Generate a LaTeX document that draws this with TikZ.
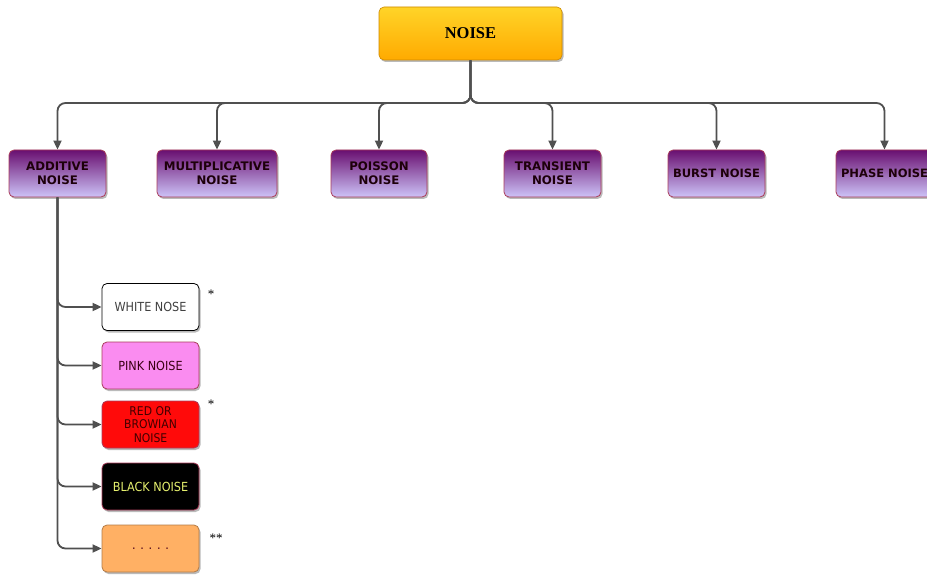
\documentclass[tikz,border=0pt]{standalone}
\usepackage{fontspec}
\setmainfont{Liberation Serif}
\newfontfamily\verd{DejaVu Sans}
\newfontfamily\tah{DejaVu Sans Condensed}
\usetikzlibrary{shadows,arrows.meta}
\definecolor{pTop}{RGB}{105,15,112}
\definecolor{pMid}{RGB}{150,80,175}
\definecolor{pBot}{RGB}{205,195,248}
\definecolor{pBorder}{RGB}{170,60,90}
\definecolor{oTop}{RGB}{255,212,40}
\definecolor{oBot}{RGB}{255,170,0}
\definecolor{lineG}{RGB}{80,80,80}
\definecolor{pinkF}{RGB}{250,140,240}
\definecolor{redF}{RGB}{255,10,10}
\definecolor{orF}{RGB}{255,176,100}
\definecolor{yelT}{RGB}{230,240,110}
\tikzset{
  x=1pt,y=-1pt,
  shad/.style={drop shadow={shadow xshift=1.5pt,shadow yshift=-2pt,fill=black!45,opacity=0.6}},
  rootbox/.style={shad,draw=oBot!80!black,line width=0.6pt,rounded corners=5pt,top color=oTop,bottom color=oBot,minimum width=183pt,minimum height=53pt,font=\fontsize{16.5}{18}\selectfont\bfseries,inner sep=0pt},
  catbox/.style={shad,draw=pBorder,line width=0.8pt,rounded corners=5pt,top color=pTop,middle color=pMid,bottom color=pBot,minimum height=47pt,font=\verd\fontsize{11.8}{14}\selectfont\bfseries,text=black!85!purple,align=center,inner sep=0pt},
  leafbox/.style={shad,draw=pBorder,line width=0.8pt,rounded corners=5pt,minimum width=97pt,minimum height=47pt,font=\tah\fontsize{12.5}{13.5}\selectfont,align=center,inner sep=0pt},
  conn/.style={draw=lineG,line width=1.8pt,rounded corners=8pt,-{Triangle[length=9pt,width=8pt]}},
  star/.style={font=\fontsize{13}{13}\selectfont},
}
\begin{document}
\begin{tikzpicture}
\useasboundingbox (0,0) rectangle (927,575);
\node[rootbox] (noise) at (470.5,33.5) {NOISE};
\node[catbox,minimum width=97pt] (add) at (57.5,173.5) {ADDITIVE\\NOISE};
\node[catbox,minimum width=120pt] (mul) at (217,173.5) {MULTIPLICATIVE\\NOISE};
\node[catbox,minimum width=96pt] (poi) at (379,173.5) {POISSON\\NOISE};
\node[catbox,minimum width=97pt] (tra) at (552.5,173.5) {TRANSIENT\\NOISE};
\node[catbox,minimum width=97pt,font=\verd\fontsize{11.5}{13}\selectfont\bfseries] (bur) at (716.5,173.5) {BURST NOISE};
\node[catbox,minimum width=97pt,font=\verd\fontsize{11.5}{13}\selectfont\bfseries] (pha) at (884.5,173.5) {PHASE NOISE};
\coordinate (bus) at (470.5,103);
\foreach \n in {add,mul,poi,tra,bur,pha}
  \draw[conn] (noise.south) -- (bus) -| (\n.north);
\node[leafbox,draw=black,fill=white,text=black!75] (white) at (150.5,307) {WHITE NOSE};
\node[leafbox,fill=pinkF,text=black!70!purple] (pink) at (150.5,365.5) {PINK NOISE};
\node[leafbox,fill=redF,text=black!75!red,font=\tah\fontsize{12}{13.5}\selectfont] (red) at (150.5,424.5) {RED OR\\BROWIAN\\NOISE};
\node[leafbox,fill=black,text=yelT] (black) at (150.5,486.5) {BLACK NOISE};
\node[leafbox,draw=orF!70!black,fill=orF,text=black!60!purple] (dots) at (150.5,548.5) {. . . . .};
\foreach \n in {white,pink,red,black,dots}
  \draw[conn] (add.south) |- (\n.west);
\node[star] (s1) at (211,294) {*};
\node[star] (s2) at (211,404) {*};
\node[star] (s3) at (216,538) {**};
\end{tikzpicture}
\end{document}
